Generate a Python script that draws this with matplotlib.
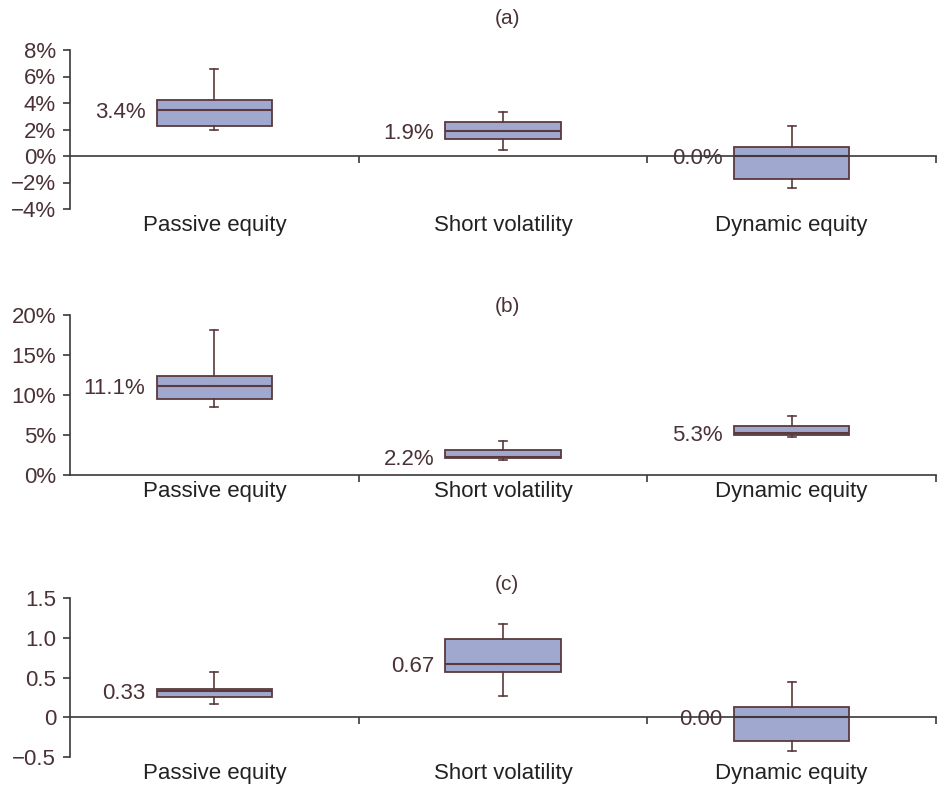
import matplotlib
matplotlib.use("Agg")
import matplotlib.pyplot as plt
from matplotlib.transforms import blended_transform_factory

plt.rcParams['font.family'] = ['Liberation Sans', 'DejaVu Sans']

categories = ["Passive equity", "Short volatility", "Dynamic equity"]

# Panel (a): values in %
a_whislo = [1.95, 0.45, -2.4]
a_q1 = [2.3, 1.3, -1.75]
a_med = [3.45, 1.85, 0.0]
a_q3 = [4.2, 2.55, 0.7]
a_whishi = [6.55, 3.3, 2.3]
a_labels = ["3.4%", "1.9%", "0.0%"]
a_ticks = [-4, -2, 0, 2, 4, 6, 8]
a_ticklabels = ["\u22124%", "\u22122%", "0%", "2%", "4%", "6%", "8%"]

# Panel (b): values in %
b_whislo = [8.5, 1.9, 4.7]
b_q1 = [9.5, 2.1, 5.0]
b_med = [11.1, 2.2, 5.3]
b_q3 = [12.4, 3.1, 6.1]
b_whishi = [18.1, 4.25, 7.4]
b_labels = ["11.1%", "2.2%", "5.3%"]
b_ticks = [0, 5, 10, 15, 20]
b_ticklabels = ["0%", "5%", "10%", "15%", "20%"]

# Panel (c)
c_whislo = [0.17, 0.265, -0.43]
c_q1 = [0.255, 0.57, -0.305]
c_med = [0.33, 0.67, 0.0]
c_q3 = [0.35, 0.99, 0.13]
c_whishi = [0.565, 1.17, 0.44]
c_labels = ["0.33", "0.67", "0.00"]
c_ticks = [-0.5, 0, 0.5, 1.0, 1.5]
c_ticklabels = ["\u22120.5", "0", "0.5", "1.0", "1.5"]

panels = [
    ("(a)", a_whislo, a_q1, a_med, a_q3, a_whishi, a_labels, a_ticks, a_ticklabels, (-4, 8)),
    ("(b)", b_whislo, b_q1, b_med, b_q3, b_whishi, b_labels, b_ticks, b_ticklabels, (0, 20)),
    ("(c)", c_whislo, c_q1, c_med, c_q3, c_whishi, c_labels, c_ticks, c_ticklabels, (-0.5, 1.5)),
]

W, H = 939, 795
fig = plt.figure(figsize=(W / 100, H / 100), dpi=100)

BROWN = "#5a3a3c"
TXT = "#4a3236"
FACE = "#a0a8d0"
AXC = "#3a3a3a"

# axes pixel boxes (top, bottom) and title y
boxes_px = [(50, 209, 18), (315, 475, 306), (598, 757, 584)]
left_px, right_px = 70, 936

for (title, wlo, q1, med, q3, whi, labs, ticks, tlabels, ylim), (tp, bp, ty) in zip(panels, boxes_px):
    ax = fig.add_axes([left_px / W, 1 - bp / H, (right_px - left_px) / W, (bp - tp) / H])
    stats = []
    for i in range(3):
        stats.append(dict(med=med[i], q1=q1[i], q3=q3[i], whislo=wlo[i], whishi=whi[i], fliers=[]))
    positions = [1, 2, 3]
    ax.bxp(stats, positions=positions, widths=0.4, patch_artist=True, showfliers=False,
           boxprops=dict(facecolor=FACE, edgecolor=BROWN, linewidth=1.3),
           medianprops=dict(color=BROWN, linewidth=1.5),
           whiskerprops=dict(color=BROWN, linewidth=1.2),
           capprops=dict(color=BROWN, linewidth=1.2),
           capwidths=0.028, zorder=2)
    ax.set_xlim(0.5, 3.5)
    ax.set_ylim(*ylim)
    for s in ["top", "right"]:
        ax.spines[s].set_visible(False)
    ax.spines["bottom"].set_position(("data", 0))
    ax.spines["bottom"].set_color(AXC)
    ax.spines["bottom"].set_linewidth(1.2)
    ax.spines["bottom"].set_zorder(3)
    ax.spines["left"].set_color(AXC)
    ax.spines["left"].set_linewidth(1.2)
    ax.set_xticks([1.5, 2.5, 3.5])
    ax.set_xticklabels([])
    ax.tick_params(axis="x", direction="out", length=5, color=AXC, width=1.2)
    ax.set_yticks(ticks)
    ax.set_yticklabels(tlabels)
    ax.tick_params(axis="y", direction="out", length=5, color=AXC, width=1.2,
                   labelsize=16, labelcolor=TXT, pad=5)
    trans = blended_transform_factory(ax.transData, ax.transAxes)
    for i, c in enumerate(categories):
        ax.annotate(c, xy=(positions[i], 0), xycoords=trans, xytext=(0, -4.5),
                    textcoords="offset points", ha="center", va="top",
                    fontsize=16, color="#222222")
    for i in range(3):
        ax.annotate(labs[i], xy=(positions[i] - 0.2, med[i]), xytext=(-8, 0),
                    textcoords="offset points", ha="right", va="center_baseline",
                    fontsize=16, color=TXT, zorder=1)
    fig.text(507 / W, 1 - ty / H, title, ha="center", va="center", fontsize=15, color=TXT)

fig.savefig("out.png", dpi=100)
